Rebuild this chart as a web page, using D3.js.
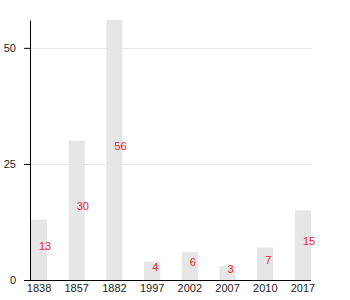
<!DOCTYPE html>
<html>
<head>
<meta charset="utf-8">
<script src="https://cdn.jsdelivr.net/npm/d3@7"></script>
<style>
  body { margin: 0; background: #fff; }
  text { font-family: "Liberation Sans", Arial, sans-serif; }
</style>
</head>
<body>
<div id="chart"></div>
<script>
const years = ['1838', '1857', '1882', '1997', '2002', '2007', '2010', '2017'];
const counts = [13, 30, 56, 4, 6, 3, 7, 15];
const yTicks = [0, 25, 50];

const width = 350;
const height = 300;
const margin = { top: 20, right: 39, bottom: 20, left: 30 };

const svg = d3
  .select('#chart')
  .append('svg')
  .attr('width', width)
  .attr('height', height);

const data = years.map((y, i) => ({ year: y, value: counts[i] }));

const x = d3
  .scaleBand()
  .domain(years)
  .range([margin.left + 1, width - margin.right])
  .paddingInner(0.575)
  .paddingOuter(0);

const y = d3
  .scaleLinear()
  .domain([0, d3.max(counts)])
  .range([height - margin.bottom, margin.top]);

// grid
svg
  .append('g')
  .selectAll('line')
  .data(yTicks.filter((d) => d > 0))
  .join('line')
  .attr('x1', margin.left)
  .attr('x2', width - margin.right + 1)
  .attr('y1', (d) => Math.round(y(d)) + 0.5)
  .attr('y2', (d) => Math.round(y(d)) + 0.5)
  .attr('stroke', '#e6e6e6')
  .attr('stroke-width', 1);

// bars
svg
  .append('g')
  .selectAll('rect')
  .data(data)
  .join('rect')
  .attr('x', (d) => x(d.year))
  .attr('y', (d) => y(d.value))
  .attr('width', x.bandwidth())
  .attr('height', (d) => y(0) - y(d.value))
  .attr('fill', '#e6e6e6');

// value labels
svg
  .append('g')
  .selectAll('text')
  .data(data)
  .join('text')
  .attr('x', (d) => x(d.year) + x.bandwidth() / 2)
  .attr('y', (d) => y(d.value / 2))
  .attr('fill', '#e8232b')
  .attr('font-size', 11)
  .text((d) => d.value);

// axes
const yAxis = svg
  .append('g')
  .attr('transform', `translate(${margin.left},0)`)
  .call(d3.axisLeft(y).tickValues(yTicks).tickSize(6).tickSizeOuter(0).tickPadding(8));

const xAxis = svg
  .append('g')
  .attr('transform', `translate(0,${height - margin.bottom})`)
  .call(d3.axisBottom(x).tickSize(0).tickPadding(4));

xAxis.select('.domain').attr('d', `M${margin.left},0.5H${width - margin.right}`);

[xAxis, yAxis].forEach((g) => {
  g.selectAll('text').attr('font-size', 11).attr('font-family', '"Liberation Sans", Arial, sans-serif').attr('fill', '#222');
  g.select('.domain').attr('stroke', '#000');
});
</script>
</body>
</html>
